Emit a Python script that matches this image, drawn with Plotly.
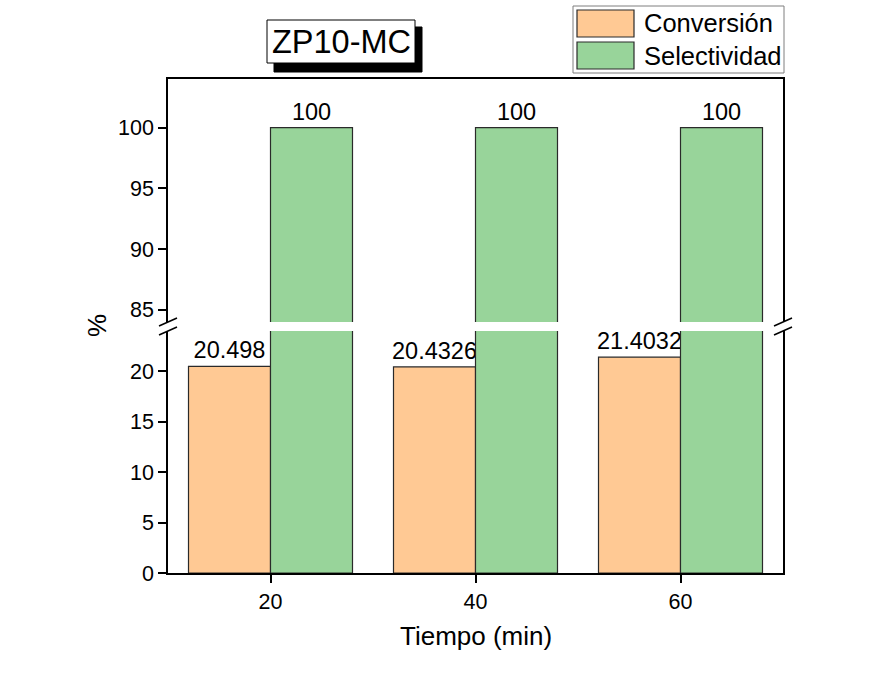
import plotly.graph_objects as go

# Data
tiempo = [20, 40, 60]
conversion = [20.498, 20.4326, 21.4032]
selectividad = [100, 100, 100]
conv_labels = ["20.498", "20.4326", "21.4032"]
sel_labels = ["100", "100", "100"]

W, H = 889, 681
FONT = "Liberation Sans, Arial, sans-serif"
C_CONV = "#FFC994"
C_SEL = "#98D49A"
EDGE = "#2a2a2a"


def px(x):
    return x / W


def py(y):
    return 1 - y / H


fig = go.Figure()

# Lower panel (0-24) and upper panel (84-104) share the same bars
for xa, ya, show_conv_text, show_sel_text in [("x", "y", True, False), ("x2", "y2", False, True)]:
    fig.add_trace(go.Bar(
        x=tiempo, y=conversion, width=8, offset=-8,
        marker=dict(color=C_CONV, line=dict(color=EDGE, width=1.2)),
        text=conv_labels if show_conv_text else None,
        textposition="outside", textfont=dict(size=23.5, color="black", family=FONT),
        constraintext="none", cliponaxis=False,
        xaxis=xa, yaxis=ya, showlegend=False, hoverinfo="skip",
    ))
    fig.add_trace(go.Bar(
        x=tiempo, y=selectividad, width=8, offset=0,
        marker=dict(color=C_SEL, line=dict(color=EDGE, width=1.2)),
        text=sel_labels if show_sel_text else None,
        textposition="outside", textfont=dict(size=23.5, color="black", family=FONT),
        constraintext="none", cliponaxis=False,
        xaxis=xa, yaxis=ya, showlegend=False, hoverinfo="skip",
    ))

x_dom = [px(168), px(783)]
axis_common = dict(showline=True, linecolor="black", linewidth=1.6, showgrid=False,
                   zeroline=False, automargin=False,
                   tickfont=dict(size=21.5, color="black", family=FONT))

fig.update_layout(
    width=W, height=H, autosize=False,
    margin=dict(l=0, r=0, t=0, b=0, pad=0, autoexpand=False),
    paper_bgcolor="white", plot_bgcolor="white",
    barmode="overlay",
    font=dict(family=FONT, color="black"),
    xaxis=dict(domain=x_dom, range=[10, 70], anchor="y", tickvals=tiempo,
               ticktext=[str(t) for t in tiempo], ticks="outside", ticklen=8,
               tickwidth=1.6, tickcolor="black", **axis_common),
    xaxis2=dict(domain=x_dom, range=[10, 70], anchor="y2", matches="x",
                side="top", showticklabels=False, ticks="", **axis_common),
    yaxis=dict(domain=[py(573), py(331)], range=[0, 24], anchor="x",
               tickvals=[0, 5, 10, 15, 20], ticks="outside", ticklen=8,
               tickwidth=1.6, tickcolor="black", mirror=True, **axis_common),
    yaxis2=dict(domain=[py(322), py(79)], range=[84, 104], anchor="x2",
                tickvals=[85, 90, 95, 100], ticks="outside", ticklen=8,
                tickwidth=1.6, tickcolor="black", mirror=True, **axis_common),
)

shapes = []
# Axis break marks (left and right)
for xc in (168, 783):
    for yc in (322, 331):
        shapes.append(dict(type="line", xref="paper", yref="paper",
                           x0=px(xc - 9), y0=py(yc + 4), x1=px(xc + 9), y1=py(yc - 4),
                           line=dict(color="black", width=1.6)))

# Title box with drop shadow
shapes.append(dict(type="rect", xref="paper", yref="paper",
                   x0=px(274), y0=py(72), x1=px(422), y1=py(27),
                   fillcolor="black", line=dict(color="black", width=1)))
shapes.append(dict(type="rect", xref="paper", yref="paper",
                   x0=px(267), y0=py(63), x1=px(415), y1=py(20),
                   fillcolor="white", line=dict(color="black", width=1)))

# Legend frame and swatches
shapes.append(dict(type="rect", xref="paper", yref="paper",
                   x0=px(573), y0=py(73), x1=px(784), y1=py(6),
                   fillcolor="white", line=dict(color="#7f7f7f", width=1)))
shapes.append(dict(type="rect", xref="paper", yref="paper",
                   x0=px(577), y0=py(37), x1=px(634), y1=py(10),
                   fillcolor=C_CONV, line=dict(color=EDGE, width=1.2)))
shapes.append(dict(type="rect", xref="paper", yref="paper",
                   x0=px(577), y0=py(69), x1=px(634), y1=py(42),
                   fillcolor=C_SEL, line=dict(color=EDGE, width=1.2)))

annotations = [
    dict(text="ZP10-MC", x=px(341), y=py(42), xref="paper", yref="paper",
         showarrow=False, font=dict(size=32.5, color="black", family=FONT),
         xanchor="center", yanchor="middle"),
    dict(text="Conversión", x=px(642), y=py(23), xref="paper", yref="paper",
         showarrow=False, font=dict(size=25.5, color="black", family=FONT),
         xanchor="left", yanchor="middle"),
    dict(text="Selectividad", x=px(642), y=py(56), xref="paper", yref="paper",
         showarrow=False, font=dict(size=25.5, color="black", family=FONT),
         xanchor="left", yanchor="middle"),
    dict(text="Tiempo (min)", x=px(476), y=py(636), xref="paper", yref="paper",
         showarrow=False, font=dict(size=26, color="black", family=FONT),
         xanchor="center", yanchor="middle"),
    dict(text="%", x=px(97), y=py(326), xref="paper", yref="paper",
         showarrow=False, textangle=-90, font=dict(size=26, color="black", family=FONT),
         xanchor="center", yanchor="middle"),
]

fig.update_layout(shapes=shapes, annotations=annotations)

fig.write_html("out.html")
